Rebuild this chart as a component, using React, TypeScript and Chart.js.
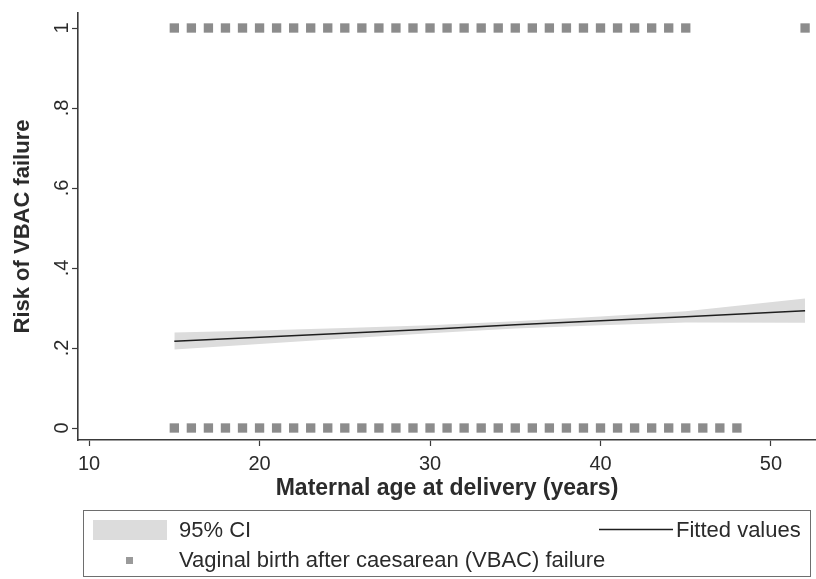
import { useEffect, useRef } from "react";
import { Chart, registerables } from "chart.js";

Chart.register(...registerables);

// Observed outcomes: maternal ages with VBAC failure (1) and success (0)
const failureAges = [
  15, 16, 17, 18, 19, 20, 21, 22, 23, 24, 25, 26, 27, 28, 29, 30, 31, 32, 33, 34,
  35, 36, 37, 38, 39, 40, 41, 42, 43, 44, 45, 52,
];
const successAges = [
  15, 16, 17, 18, 19, 20, 21, 22, 23, 24, 25, 26, 27, 28, 29, 30, 31, 32, 33, 34,
  35, 36, 37, 38, 39, 40, 41, 42, 43, 44, 45, 46, 47, 48,
];

// Fitted risk and its 95% confidence band
const fitAges = [15, 20, 25, 30, 35, 40, 45, 52];
const fittedRisk = [0.217, 0.227, 0.237, 0.247, 0.258, 0.268, 0.278, 0.293];
const ciLower = [0.196, 0.21, 0.224, 0.237, 0.249, 0.257, 0.264, 0.263];
const ciUpper = [0.239, 0.244, 0.25, 0.257, 0.267, 0.279, 0.292, 0.324];

// Axis ticks
const xTicks = [10, 20, 30, 40, 50];
const yTicks = [0, 0.2, 0.4, 0.6, 0.8, 1];

const FONT = '"Liberation Sans", Arial, Helvetica, sans-serif';
const INK = "#2b2b2b";
const AXIS = "#3a3a3a";
const MARKER = "#8c8c8c";
const BAND = "#dcdcdc";

const yLabel = (v: number) => {
  if (v === 0) return "0";
  if (v === 1) return "1";
  return String(Math.round(v * 10) / 10).replace(/^0/, "");
};

// Two-row boxed legend drawn under the x-axis title
const boxedLegend = {
  id: "boxedLegend",
  afterDraw(chart: any) {
    const { ctx } = chart;
    const sets = chart.data.datasets;
    const band = sets[1];
    const fit = sets[2];
    const obs = sets[3];
    ctx.save();
    ctx.strokeStyle = "#6e6e6e";
    ctx.lineWidth = 1;
    ctx.strokeRect(83.5, 510.5, 727, 66);

    ctx.font = `22px ${FONT}`;
    ctx.fillStyle = INK;
    ctx.textBaseline = "middle";
    ctx.textAlign = "left";

    // row 1: band swatch + label
    ctx.fillStyle = band.backgroundColor;
    ctx.fillRect(93, 520, 74, 20);
    ctx.fillStyle = INK;
    ctx.fillText(band.label, 179, 531);

    // row 1, column 2: fitted line + label
    ctx.strokeStyle = fit.borderColor;
    ctx.lineWidth = 1.5;
    ctx.beginPath();
    ctx.moveTo(599, 529.5);
    ctx.lineTo(673, 529.5);
    ctx.stroke();
    ctx.fillText(fit.label, 676, 531);

    // row 2: marker + label
    ctx.fillStyle = "#9a9a9a";
    ctx.fillRect(126, 557, 7, 7);
    ctx.fillStyle = INK;
    ctx.fillText(obs.label, 179, 561);
    ctx.restore();
  },
};

export default function App() {
  const canvasRef = useRef<HTMLCanvasElement | null>(null);

  useEffect(() => {
    const canvas = canvasRef.current;
    if (!canvas) return;

    const chart = new Chart(canvas, {
      type: "scatter",
      data: {
        datasets: [
          {
            type: "line",
            label: "",
            data: fitAges.map((x, i) => ({ x, y: ciLower[i] })),
            borderWidth: 0,
            borderColor: "rgba(0,0,0,0)",
            pointRadius: 0,
            fill: false,
            order: 3,
          },
          {
            type: "line",
            label: "95% CI",
            data: fitAges.map((x, i) => ({ x, y: ciUpper[i] })),
            borderWidth: 0,
            borderColor: "rgba(0,0,0,0)",
            backgroundColor: BAND,
            pointRadius: 0,
            fill: "-1",
            order: 2,
          },
          {
            type: "line",
            label: "Fitted values",
            data: fitAges.map((x, i) => ({ x, y: fittedRisk[i] })),
            borderColor: "#1e1e1e",
            borderWidth: 1.6,
            pointRadius: 0,
            fill: false,
            order: 0,
          },
          {
            type: "scatter",
            label: "Vaginal birth after caesarean (VBAC) failure",
            data: [
              ...failureAges.map((x) => ({ x, y: 1 })),
              ...successAges.map((x) => ({ x, y: 0 })),
            ],
            pointStyle: "rect",
            pointRadius: 6.6,
            backgroundColor: MARKER,
            borderColor: MARKER,
            borderWidth: 0,
            order: 1,
            clip: false,
          } as any,
        ],
      },
      options: {
        animation: false,
        responsive: false,
        layout: { autoPadding: false, padding: { top: 13, right: 0, bottom: 77, left: 0 } },
        plugins: {
          legend: { display: false },
          tooltip: { enabled: false },
        },
        scales: {
          x: {
            type: "linear",
            min: 9.35,
            max: 52.64,
            afterBuildTicks: (s: any) => {
              s.ticks = xTicks.map((value) => ({ value }));
            },
            afterFit: (s: any) => {
              s.height = 62;
            },
            ticks: {
              color: INK,
              padding: 6,
              font: { family: FONT, size: 20 },
              maxRotation: 0,
              autoSkip: false,
            },
            grid: {
              drawOnChartArea: false,
              drawTicks: true,
              tickLength: 6,
              tickColor: AXIS,
              tickWidth: 1.2,
            },
            border: { display: true, color: AXIS, width: 1.6 },
            title: {
              display: true,
              text: "Maternal age at delivery (years)",
              color: INK,
              font: { family: FONT, size: 23, weight: "bold" },
              padding: { top: 0, bottom: 0 },
            },
          },
          y: {
            type: "linear",
            min: -0.03,
            max: 1.0375,
            afterBuildTicks: (s: any) => {
              s.ticks = yTicks.map((value) => ({ value }));
            },
            afterFit: (s: any) => {
              s.width = 78;
            },
            ticks: {
              color: INK,
              padding: 1,
              crossAlign: "center",
              minRotation: 90,
              maxRotation: 90,
              font: { family: FONT, size: 20 },
              callback: (v: any) => yLabel(Number(v)),
            },
            grid: {
              drawOnChartArea: false,
              drawTicks: true,
              tickLength: 6,
              tickColor: AXIS,
              tickWidth: 1.2,
            },
            border: { display: true, color: AXIS, width: 1.6 },
            title: {
              display: true,
              text: "Risk of VBAC failure",
              color: INK,
              font: { family: FONT, size: 22, weight: "bold" },
              padding: { top: 10, bottom: 0 },
            },
          },
        },
      } as any,
      plugins: [boxedLegend],
    });

    return () => chart.destroy();
  }, []);

  return (
    <div style={{ position: "fixed", left: 0, top: 0, width: 816, height: 579, background: "#fff" }}>
      <canvas ref={canvasRef} width={816} height={579} style={{ display: "block" }} />
    </div>
  );
}
